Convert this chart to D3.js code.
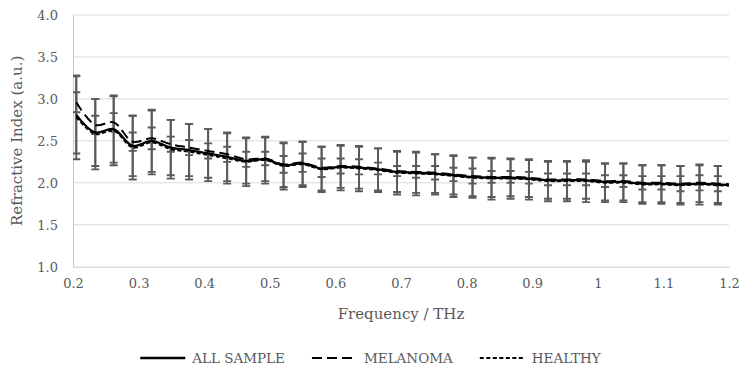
<!DOCTYPE html>
<html>
<head>
<meta charset="utf-8">
<script src="https://cdn.jsdelivr.net/npm/d3@7"></script>
<style>
  html, body { margin: 0; padding: 0; background: #ffffff; }
  svg text { font-family: "DejaVu Serif", "Liberation Serif", serif; fill: #595959; }
</style>
</head>
<body>
<svg id="chart" width="741" height="374"></svg>
<script>
// Frequency samples (THz)
const freq = [0.205, 0.234, 0.262, 0.291, 0.320, 0.349, 0.377, 0.406, 0.435, 0.464,
              0.493, 0.521, 0.550, 0.579, 0.608, 0.636, 0.665, 0.694, 0.723, 0.752,
              0.780, 0.809, 0.838, 0.867, 0.895, 0.924, 0.953, 0.982, 1.011, 1.039,
              1.068, 1.097, 1.126, 1.155, 1.183, 1.212];

// Mean refractive index per group
const allMean = [2.81, 2.60, 2.64, 2.44, 2.50, 2.42, 2.39, 2.35, 2.31, 2.26,
                 2.28, 2.21, 2.23, 2.17, 2.19, 2.18, 2.16, 2.13, 2.12, 2.11,
                 2.09, 2.07, 2.06, 2.06, 2.05, 2.03, 2.03, 2.03, 2.01, 2.01,
                 1.99, 1.99, 1.98, 1.99, 1.98, 1.97];
const melanomaMean = [2.96, 2.69, 2.72, 2.49, 2.53, 2.46, 2.42, 2.38, 2.34, 2.28,
                      2.29, 2.22, 2.24, 2.18, 2.20, 2.19, 2.17, 2.14, 2.13, 2.12,
                      2.10, 2.08, 2.07, 2.07, 2.06, 2.04, 2.04, 2.04, 2.02, 2.02,
                      2.00, 2.00, 1.99, 2.00, 1.99, 1.98];
const healthyMean = [2.78, 2.58, 2.62, 2.42, 2.48, 2.40, 2.37, 2.33, 2.29, 2.25,
                     2.27, 2.20, 2.22, 2.16, 2.18, 2.17, 2.15, 2.12, 2.11, 2.10,
                     2.08, 2.06, 2.05, 2.05, 2.04, 2.02, 2.02, 2.02, 2.00, 2.00,
                     1.98, 1.98, 1.97, 1.98, 1.97, 1.96];

// Standard deviations per group
const allErr = [0.46, 0.40, 0.40, 0.36, 0.37, 0.33, 0.31, 0.29, 0.29, 0.27,
                0.26, 0.26, 0.26, 0.26, 0.25, 0.25, 0.25, 0.24, 0.24, 0.23,
                0.23, 0.23, 0.23, 0.22, 0.22, 0.22, 0.22, 0.22, 0.22, 0.22,
                0.22, 0.22, 0.22, 0.22, 0.22, 0.22];
const melanomaErr = [0.12, 0.11, 0.11, 0.11, 0.13, 0.09, 0.09, 0.09, 0.09, 0.09,
                     0.08, 0.10, 0.11, 0.11, 0.09, 0.09, 0.07, 0.06, 0.07, 0.08,
                     0.08, 0.09, 0.07, 0.07, 0.07, 0.07, 0.07, 0.07, 0.07, 0.07,
                     0.08, 0.08, 0.09, 0.09, 0.09, 0.09];
const healthyErr = [0.50, 0.42, 0.41, 0.38, 0.38, 0.35, 0.33, 0.31, 0.30, 0.29,
                    0.28, 0.28, 0.27, 0.27, 0.27, 0.27, 0.26, 0.26, 0.26, 0.24,
                    0.25, 0.24, 0.25, 0.24, 0.24, 0.24, 0.24, 0.25, 0.23, 0.23,
                    0.23, 0.23, 0.23, 0.24, 0.23, 0.23];

const xTicks = [0.2, 0.3, 0.4, 0.5, 0.6, 0.7, 0.8, 0.9, 1, 1.1, 1.2];
const yTicks = [1.0, 1.5, 2.0, 2.5, 3.0, 3.5, 4.0];
const seriesNames = ["ALL SAMPLE", "MELANOMA", "HEALTHY"];

const series = [
  { name: seriesNames[0], mean: allMean, err: allErr, dash: null, width: 2.3 },
  { name: seriesNames[1], mean: melanomaMean, err: melanomaErr, dash: "10,5", width: 2 },
  { name: seriesNames[2], mean: healthyMean, err: healthyErr, dash: "4,2.5", width: 1.8 }
];

const svg = d3.select("#chart");
const margin = { left: 73, right: 12, top: 15, bottom: 107.3 };
const W = 741, H = 374;
const plotW = W - margin.left - margin.right;
const plotH = H - margin.top - margin.bottom;

const x = d3.scaleLinear().domain([0.2, 1.2]).range([0, plotW]);
const y = d3.scaleLinear().domain([1.0, 4.0]).range([plotH, 0]);

const g = svg.append("g").attr("transform", `translate(${margin.left},${margin.top})`);

svg.append("defs").append("clipPath").attr("id", "plotClip")
  .append("rect").attr("x", 0).attr("y", -2).attr("width", plotW).attr("height", plotH + 4);

// horizontal gridlines
g.append("g").selectAll("line").data(yTicks.filter(v => v > 1.0)).join("line")
  .attr("x1", 0).attr("x2", plotW)
  .attr("y1", d => y(d)).attr("y2", d => y(d))
  .attr("stroke", "#d9d9d9").attr("stroke-width", 1);

// y axis
const yAxis = g.append("g")
  .call(d3.axisLeft(y).tickValues(yTicks).tickFormat(d3.format(".1f")).tickSize(0).tickPadding(15));
yAxis.select(".domain").attr("stroke", "#c8c8c8").attr("stroke-width", 1);
yAxis.selectAll("text").attr("font-size", 13).style("fill", "#595959").attr("dy", "0.35em");

// x axis
const xAxis = g.append("g").attr("transform", `translate(0,${plotH})`)
  .call(d3.axisBottom(x).tickValues(xTicks).tickFormat(d => String(d)).tickSize(0).tickPadding(12));
xAxis.select(".domain").attr("stroke", "#c8c8c8").attr("stroke-width", 1);
xAxis.selectAll("text").attr("font-size", 13).style("fill", "#595959");

// axis titles
g.append("text")
  .attr("transform", `translate(${-51},${plotH / 2}) rotate(-90)`)
  .attr("text-anchor", "middle").attr("font-size", 15)
  .text("Refractive Index (a.u.)");
g.append("text")
  .attr("x", plotW / 2).attr("y", plotH + 52)
  .attr("text-anchor", "middle").attr("font-size", 15)
  .text("Frequency / THz");

const plot = g.append("g").attr("clip-path", "url(#plotClip)");

// error bars
const capHalf = 4;
series.forEach(s => {
  const eg = plot.append("g").attr("stroke", "#5a5a5a").attr("stroke-width", 1.9);
  const pts = freq.map((f, i) => ({ f, m: s.mean[i], e: s.err[i] }));
  eg.selectAll("line.v").data(pts).join("line").attr("class", "v")
    .attr("x1", d => x(d.f)).attr("x2", d => x(d.f))
    .attr("y1", d => y(d.m + d.e)).attr("y2", d => y(d.m - d.e));
  eg.selectAll("line.t").data(pts).join("line").attr("class", "t")
    .attr("x1", d => x(d.f) - capHalf).attr("x2", d => x(d.f) + capHalf)
    .attr("y1", d => y(d.m + d.e)).attr("y2", d => y(d.m + d.e));
  eg.selectAll("line.b").data(pts).join("line").attr("class", "b")
    .attr("x1", d => x(d.f) - capHalf).attr("x2", d => x(d.f) + capHalf)
    .attr("y1", d => y(d.m - d.e)).attr("y2", d => y(d.m - d.e));
});

// mean curves
const line = d3.line().x(d => x(d[0])).y(d => y(d[1])).curve(d3.curveCatmullRom.alpha(0.5));
series.forEach(s => {
  plot.append("path")
    .datum(freq.map((f, i) => [f, s.mean[i]]))
    .attr("fill", "none").attr("stroke", "#000000")
    .attr("stroke-width", s.width)
    .attr("stroke-dasharray", s.dash)
    .attr("d", line);
});

// legend
const legend = svg.append("g").attr("transform", "translate(0,358)");
const sampleLen = 45, sampleGap = 7, itemGap = 27;
let cursor = 0;
series.forEach(s => {
  const ig = legend.append("g");
  ig.append("line").attr("x1", 0).attr("x2", sampleLen).attr("y1", 0).attr("y2", 0)
    .attr("stroke", "#000").attr("stroke-width", s.width).attr("stroke-dasharray", s.dash);
  const t = ig.append("text").attr("x", sampleLen + sampleGap).attr("y", 0).attr("dy", "0.35em")
    .attr("font-size", 13.5).text(s.name);
  const w = sampleLen + sampleGap + t.node().getComputedTextLength();
  ig.attr("transform", `translate(${cursor},0)`);
  cursor += w + itemGap;
});
const totalW = cursor - itemGap;
legend.attr("transform", `translate(${(W - totalW) / 2},358)`);
</script>
</body>
</html>
